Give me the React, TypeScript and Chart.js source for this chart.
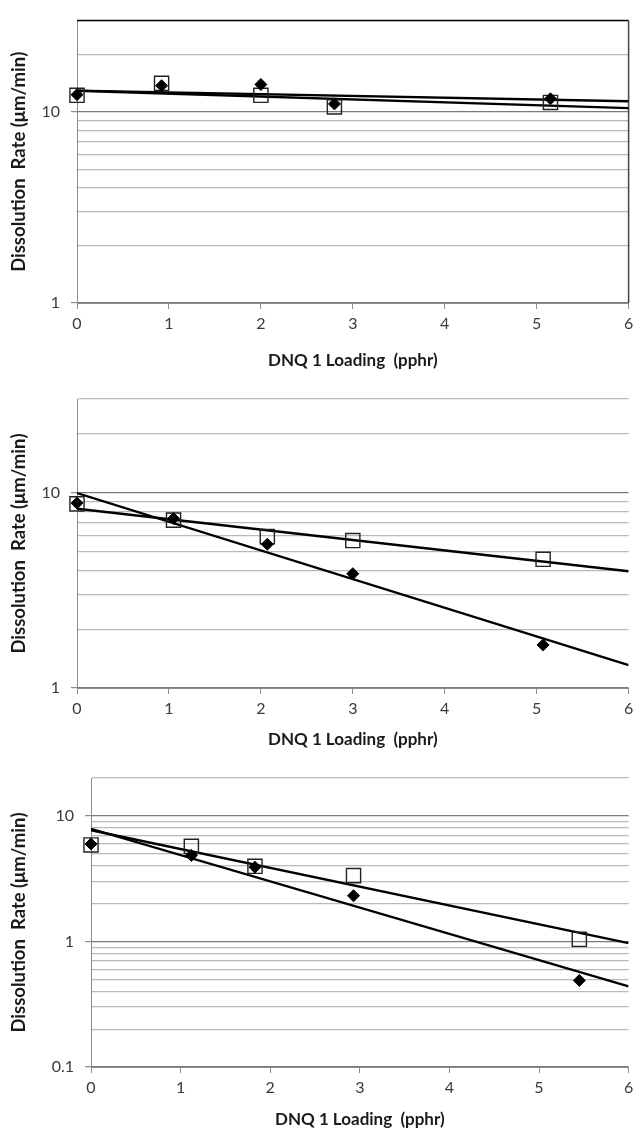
import React, { useEffect, useRef } from 'react';
import { Chart, registerables } from 'chart.js';

Chart.register(...registerables);

// ---------- data ----------
const trendX = [0, 6];
const xTickValues = [0, 1, 2, 3, 4, 5, 6];
const yTicksTop = [1, 2, 3, 4, 5, 6, 7, 8, 9, 10, 20, 30];
const yTicksBottom = [0.1, 0.2, 0.3, 0.4, 0.5, 0.6, 0.7, 0.8, 0.9, 1, 2, 3, 4, 5, 6, 7, 8, 9, 10, 20];

const loading1 = [0, 0.92, 2.0, 2.8, 5.15];
const rate1Square = [12.2, 14.1, 12.2, 10.6, 11.2];
const rate1Diamond = [12.3, 13.7, 13.9, 11.0, 11.7];
const trend1Square = [12.9, 10.45];
const trend1Diamond = [12.9, 11.35];

const loading2 = [0, 1.05, 2.07, 3.0, 5.07];
const rate2Square = [8.73, 7.21, 5.94, 5.67, 4.55];
const rate2Diamond = [8.81, 7.35, 5.43, 3.84, 1.66];
const trend2Square = [8.24, 3.95];
const trend2Diamond = [9.91, 1.31];

const loading3 = [0, 1.12, 1.83, 2.93, 5.45];
const rate3Square = [5.86, 5.71, 3.96, 3.34, 1.04];
const rate3Diamond = [5.97, 4.84, 3.9, 2.31, 0.489];
const trend3Square = [7.67, 0.97];
const trend3Diamond = [7.87, 0.438];

const xTitle = 'DNQ 1 Loading  (pphr)';
const yTitle = 'Dissolution  Rate (μm/min)';

// ---------- helpers ----------
const isPow10 = (v: number) => Math.abs(Math.log10(v) - Math.round(Math.log10(v))) < 1e-9;
const FONT = 'Lato, "Open Sans", sans-serif';

const framePlugin = {
  id: 'frame',
  beforeDatasetsDraw(chart: any) {
    const { ctx, chartArea } = chart;
    const { top, right, bottom, left } = chartArea;
    ctx.save();
    ctx.strokeStyle = '#000';
    ctx.lineWidth = 1.5;
    ctx.beginPath();
    ctx.moveTo(left, top);
    ctx.lineTo(right, top);
    ctx.stroke();
    ctx.strokeStyle = '#444';
    ctx.beginPath();
    ctx.moveTo(right, top);
    ctx.lineTo(right, bottom);
    ctx.stroke();
    ctx.restore();
  },
};

type PanelProps = {
  top: number;
  height: number;
  padTop: number;
  yAxisWidth: number;
  xAxisHeight: number;
  yMin: number;
  yMax: number;
  yTicks: number[];
  xs: number[];
  squares: number[];
  diamonds: number[];
  trendSquare: number[];
  trendDiamond: number[];
  frame: boolean;
};

function Panel(p: PanelProps) {
  const ref = useRef<HTMLCanvasElement | null>(null);
  useEffect(() => {
    if (!ref.current) return;
    const chart = new Chart(ref.current, {
      type: 'scatter',
      data: {
        datasets: [
          {
            label: 'diamond',
            data: p.xs.map((x, i) => ({ x, y: p.diamonds[i] })),
            pointStyle: 'rectRot',
            pointRadius: 6,
            backgroundColor: '#000',
            borderColor: '#000',
            borderWidth: 1,
            showLine: false,
            clip: false,
          } as any,
          {
            label: 'square',
            data: p.xs.map((x, i) => ({ x, y: p.squares[i] })),
            pointStyle: 'rect',
            pointRadius: 10,
            backgroundColor: 'rgba(0,0,0,0)',
            borderColor: '#222',
            borderWidth: 1.4,
            showLine: false,
            clip: false,
          } as any,
          {
            type: 'line',
            label: 'trendSquare',
            data: trendX.map((x, i) => ({ x, y: p.trendSquare[i] })),
            borderColor: '#000',
            borderWidth: 2.4,
            pointRadius: 0,
            fill: false,
          } as any,
          {
            type: 'line',
            label: 'trendDiamond',
            data: trendX.map((x, i) => ({ x, y: p.trendDiamond[i] })),
            borderColor: '#000',
            borderWidth: 2.4,
            pointRadius: 0,
            fill: false,
          } as any,
        ],
      },
      options: {
        responsive: false,
        animation: false,
        events: [],
        layout: { padding: { top: p.padTop, right: 8, left: 0, bottom: 0 } },
        plugins: { legend: { display: false }, tooltip: { enabled: false } },
        scales: {
          x: {
            type: 'linear',
            min: 0,
            max: 6,
            afterBuildTicks: (s: any) => {
              s.ticks = xTickValues.map((v) => ({ value: v }));
            },
            afterFit: (s: any) => {
              s.height = p.xAxisHeight;
            },
            grid: { drawOnChartArea: false, drawTicks: true, tickLength: 6, color: '#8c8c8c' },
            border: { color: '#8c8c8c', width: 1 },
            ticks: {
              font: { family: FONT, size: 16 },
              color: '#3a3a3a',
              padding: 5,
              maxRotation: 0,
              autoSkip: false,
            },
            title: {
              display: true,
              text: xTitle,
              font: { family: FONT, size: 17, weight: 'bold' },
              color: '#1a1a1a',
              padding: { top: 0, bottom: 0 },
            },
          },
          y: {
            type: 'logarithmic',
            min: p.yMin,
            max: p.yMax,
            afterBuildTicks: (s: any) => {
              s.ticks = p.yTicks.map((v) => ({ value: v, major: isPow10(v) }));
            },
            afterFit: (s: any) => {
              s.width = p.yAxisWidth;
            },
            grid: {
              color: (c: any) => (c.tick && isPow10(c.tick.value) ? '#7a7a7a' : '#b9b9b9'),
              tickColor: (c: any) => (c.tick && isPow10(c.tick.value) ? '#8c8c8c' : 'rgba(0,0,0,0)'),
              tickLength: 6,
              lineWidth: 1.2,
            },
            border: { color: '#8c8c8c', width: 1 },
            ticks: {
              autoSkip: false,
              padding: 11,
              font: { family: FONT, size: 16 },
              color: '#3a3a3a',
              callback: (v: any) => (isPow10(Number(v)) ? String(Number(v)) : ''),
            },
            title: {
              display: true,
              text: yTitle,
              font: { family: FONT, size: 18.5, weight: 'bold' },
              color: '#1a1a1a',
              padding: { top: 8, bottom: 0 },
            },
          },
        },
      } as any,
      plugins: p.frame ? [framePlugin] : [],
    });
    return () => chart.destroy();
  }, []);
  return (
    <div style={{ position: 'absolute', left: 0, top: p.top, width: 640, height: p.height }}>
      <canvas ref={ref} width={640} height={p.height} style={{ display: 'block' }} />
    </div>
  );
}

export default function App() {
  return (
    <div style={{ position: 'absolute', left: 0, top: 0, width: 640, height: 1130, background: '#fff', overflow: 'hidden' }}>
      <Panel
        top={0}
        height={371}
        padTop={13}
        yAxisWidth={77}
        xAxisHeight={68}
        yMin={1}
        yMax={30}
        yTicks={yTicksTop}
        xs={loading1}
        squares={rate1Square}
        diamonds={rate1Diamond}
        trendSquare={trend1Square}
        trendDiamond={trend1Diamond}
        frame={true}
      />
      <Panel
        top={371}
        height={379}
        padTop={28}
        yAxisWidth={77}
        xAxisHeight={62}
        yMin={1}
        yMax={30}
        yTicks={yTicksTop}
        xs={loading2}
        squares={rate2Square}
        diamonds={rate2Diamond}
        trendSquare={trend2Square}
        trendDiamond={trend2Diamond}
        frame={false}
      />
      <Panel
        top={750}
        height={380}
        padTop={28}
        yAxisWidth={91}
        xAxisHeight={63}
        yMin={0.1}
        yMax={20}
        yTicks={yTicksBottom}
        xs={loading3}
        squares={rate3Square}
        diamonds={rate3Diamond}
        trendSquare={trend3Square}
        trendDiamond={trend3Diamond}
        frame={false}
      />
    </div>
  );
}
